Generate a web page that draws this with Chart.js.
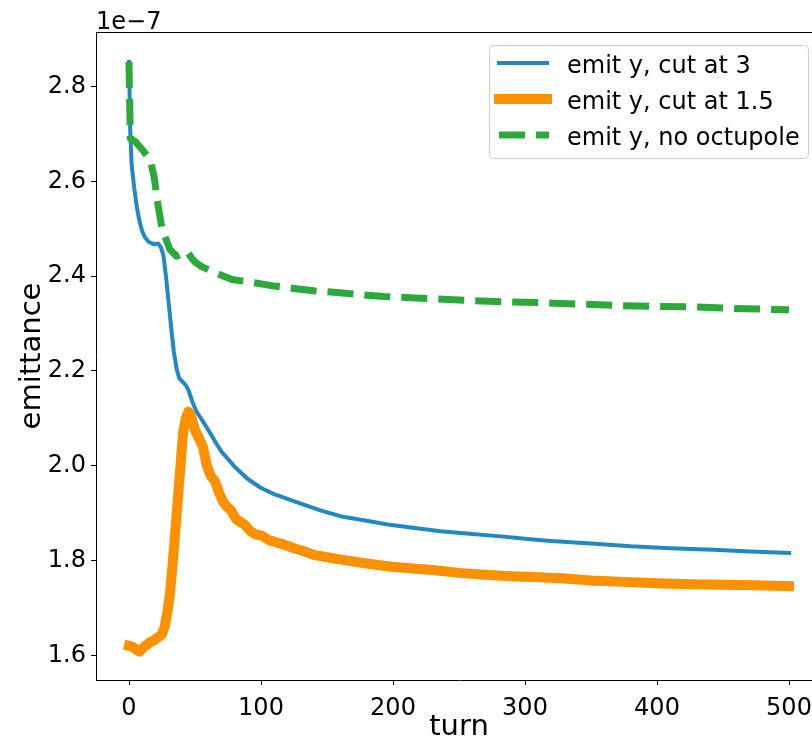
<!DOCTYPE html>
<html lang="en">
<head>
    <meta charset="UTF-8">
    <title>emittance vs turn</title>
    <script src="https://cdn.jsdelivr.net/npm/chart.js"></script>
    <style>
        html, body { margin: 0; padding: 0; overflow: hidden; background: #fff; }
        #wrap { position: relative; width: 824px; height: 742px; }
    </style>
</head>
<body>

<div id="wrap">
    <canvas id="emit-chart" width="824" height="742"></canvas>
</div>

<script>
    // values are in units of 1e-7 (shown as offset text above the axis)
    const offsetText = '1e\u22127';

    const turnCut3 = [0, 1, 2, 4, 6, 8, 10, 12, 15, 19, 22, 24, 26, 28, 30, 32, 34, 36, 38, 41,
        43, 45, 48, 51, 55, 60, 65, 70, 80, 90, 100, 110, 128, 145, 161, 180, 196, 215, 236, 260,
        282, 300, 317, 350, 380, 410, 443, 470, 500];
    const emitCut3 = [2.852, 2.70, 2.635, 2.585, 2.545, 2.515, 2.495, 2.482, 2.472, 2.467,
        2.469, 2.462, 2.445, 2.40, 2.345, 2.29, 2.24, 2.205, 2.185, 2.176,
        2.17, 2.16, 2.135, 2.115, 2.098, 2.076, 2.052, 2.030, 1.998, 1.972,
        1.953, 1.940, 1.922, 1.906, 1.893, 1.884, 1.876, 1.869, 1.862, 1.856,
        1.851, 1.846, 1.842, 1.836, 1.830, 1.826, 1.823, 1.819, 1.816];

    const turnCut15 = [0, 3, 6, 8, 11, 15, 19, 23, 25, 27, 29, 31, 33, 35, 37, 39, 41, 43, 45, 47,
        50, 53, 56, 59, 62, 65, 68, 71, 74, 77, 81, 85, 88, 92, 96, 101, 106, 112, 118, 125,
        132, 140, 150, 161, 175, 187, 199, 215, 230, 250, 270, 290, 310, 330, 350, 375, 400, 425, 450, 475, 500];
    const emitCut15 = [1.620, 1.618, 1.611, 1.608, 1.617, 1.626, 1.632, 1.640, 1.645, 1.66,
        1.69, 1.73, 1.79, 1.86, 1.93, 2.0, 2.07, 2.10, 2.114, 2.105,
        2.075, 2.058, 2.04, 2.0, 1.978, 1.968, 1.945, 1.925, 1.914, 1.907,
        1.888, 1.880, 1.875, 1.862, 1.855, 1.852, 1.843, 1.838, 1.833, 1.826,
        1.820, 1.812, 1.807, 1.802, 1.796, 1.791, 1.787, 1.783, 1.780, 1.774,
        1.770, 1.767, 1.765, 1.762, 1.758, 1.755, 1.752, 1.750, 1.749, 1.748, 1.746];

    const turnNoOct = [0, 1, 5, 10, 16, 19, 22, 25, 27, 31, 36, 41, 44, 47, 50, 55, 63, 78, 95, 110,
        125, 140, 155, 171, 193, 225, 254, 283, 312, 341, 369, 398, 427, 455, 484, 500];
    const emitNoOct = [2.852, 2.69, 2.683, 2.667, 2.646, 2.61, 2.55, 2.50, 2.485, 2.456,
        2.442, 2.45, 2.452, 2.44, 2.43, 2.42, 2.41, 2.393, 2.386, 2.379,
        2.374, 2.369, 2.366, 2.362, 2.357, 2.353, 2.349, 2.346, 2.344, 2.341,
        2.338, 2.336, 2.335, 2.332, 2.330, 2.329];

    const seriesLabels = ['emit y, cut at 3', 'emit y, cut at 1.5', 'emit y, no octupole'];
    const xTicks = [0, 100, 200, 300, 400, 500];
    const yTicks = [1.6, 1.8, 2.0, 2.2, 2.4, 2.6, 2.8];

    const BLUE = '#2388c2';
    const ORANGE = '#ff9100';
    const GREEN = '#2ca93a';

    function toPoints(xs, ys) {
        return xs.map((x, i) => ({ x: x, y: ys[i] }));
    }

    // top/right spines, offset text and a matplotlib-like legend box
    const frameAndLegend = {
        id: 'frameAndLegend',
        afterDraw(chart) {
            const ctx = chart.ctx;
            const a = chart.chartArea;
            ctx.save();
            ctx.strokeStyle = '#000';
            ctx.lineWidth = 1;
            ctx.beginPath();
            ctx.moveTo(a.left, a.top + 0.5);
            ctx.lineTo(a.right, a.top + 0.5);
            ctx.moveTo(a.right - 0.5, a.top);
            ctx.lineTo(a.right - 0.5, a.bottom);
            ctx.stroke();

            ctx.fillStyle = '#000';
            ctx.font = '24px "DejaVu Sans"';
            ctx.textAlign = 'left';
            ctx.textBaseline = 'alphabetic';
            ctx.fillText(offsetText, a.left, 29);

            // legend
            const bx = 489, by = 45, bw = 319, bh = 113;
            ctx.beginPath();
            ctx.roundRect(bx + 0.5, by + 0.5, bw, bh, 4);
            ctx.fillStyle = 'rgba(255,255,255,0.8)';
            ctx.fill();
            ctx.strokeStyle = '#cccccc';
            ctx.stroke();

            chart.data.datasets.forEach((ds, i) => {
                const y = 63 + i * 36;
                ctx.beginPath();
                ctx.strokeStyle = ds.borderColor;
                ctx.lineWidth = ds.borderWidth;
                ctx.lineCap = ds.borderCapStyle;
                ctx.setLineDash(ds.borderDash || []);
                if (ds.borderDash) {
                    ctx.moveTo(499, y);
                    ctx.lineTo(549, y);
                } else {
                    ctx.moveTo(499, y);
                    ctx.lineTo(547, y);
                }
                ctx.stroke();
                ctx.setLineDash([]);
                ctx.fillStyle = '#000';
                ctx.fillText(ds.label, 567, y + 10);
            });
            ctx.restore();
        }
    };

    Chart.defaults.font.family = '"DejaVu Sans"';
    Chart.defaults.color = '#000';

    const ctx = document.getElementById('emit-chart').getContext('2d');
    new Chart(ctx, {
        type: 'line',
        data: {
            datasets: [{
                label: seriesLabels[0],
                data: toPoints(turnCut3, emitCut3),
                borderColor: BLUE,
                borderWidth: 4,
                borderCapStyle: 'square',
                borderJoinStyle: 'round',
                order: 3
            }, {
                label: seriesLabels[1],
                data: toPoints(turnCut15, emitCut15),
                borderColor: ORANGE,
                borderWidth: 10,
                borderCapStyle: 'square',
                borderJoinStyle: 'round',
                order: 2
            }, {
                label: seriesLabels[2],
                data: toPoints(turnNoOct, emitNoOct),
                borderColor: GREEN,
                borderWidth: 7,
                borderDash: [26, 11],
                borderCapStyle: 'butt',
                borderJoinStyle: 'round',
                order: 1
            }]
        },
        options: {
            responsive: false,
            animation: false,
            events: [],
            layout: { padding: { top: 32, right: 2, left: 0, bottom: 0 } },
            elements: {
                point: { radius: 0 },
                line: { tension: 0, fill: false }
            },
            plugins: {
                legend: { display: false },
                tooltip: { enabled: false }
            },
            scales: {
                x: {
                    type: 'linear',
                    min: -25,
                    max: 525,
                    afterBuildTicks: scale => { scale.ticks = xTicks.map(v => ({ value: v })); },
                    afterFit: scale => { scale.height = 62; },
                    ticks: {
                        font: { size: 24 },
                        color: '#000',
                        padding: 9,
                        maxRotation: 0,
                        autoSkip: false,
                        callback: v => String(v)
                    },
                    grid: {
                        drawOnChartArea: false,
                        drawTicks: true,
                        tickLength: 5,
                        tickColor: '#000'
                    },
                    border: { color: '#000', width: 1 },
                    title: {
                        display: true,
                        text: 'turn',
                        font: { size: 29, lineHeight: 1.0 },
                        color: '#000',
                        padding: { top: 0, bottom: 0 }
                    }
                },
                y: {
                    type: 'linear',
                    min: 1.548,
                    max: 2.915,
                    afterBuildTicks: scale => { scale.ticks = yTicks.map(v => ({ value: v })); },
                    afterFit: scale => { scale.width = 96; },
                    ticks: {
                        font: { size: 24 },
                        color: '#000',
                        padding: 5,
                        autoSkip: false,
                        callback: v => v.toFixed(1)
                    },
                    grid: {
                        drawOnChartArea: false,
                        drawTicks: true,
                        tickLength: 5,
                        tickColor: '#000'
                    },
                    border: { color: '#000', width: 1 },
                    title: {
                        display: true,
                        text: 'emittance',
                        font: { size: 29 },
                        color: '#000',
                        padding: { top: 15, bottom: 0 }
                    }
                }
            }
        },
        plugins: [frameAndLegend]
    });
</script>

</body>
</html>
